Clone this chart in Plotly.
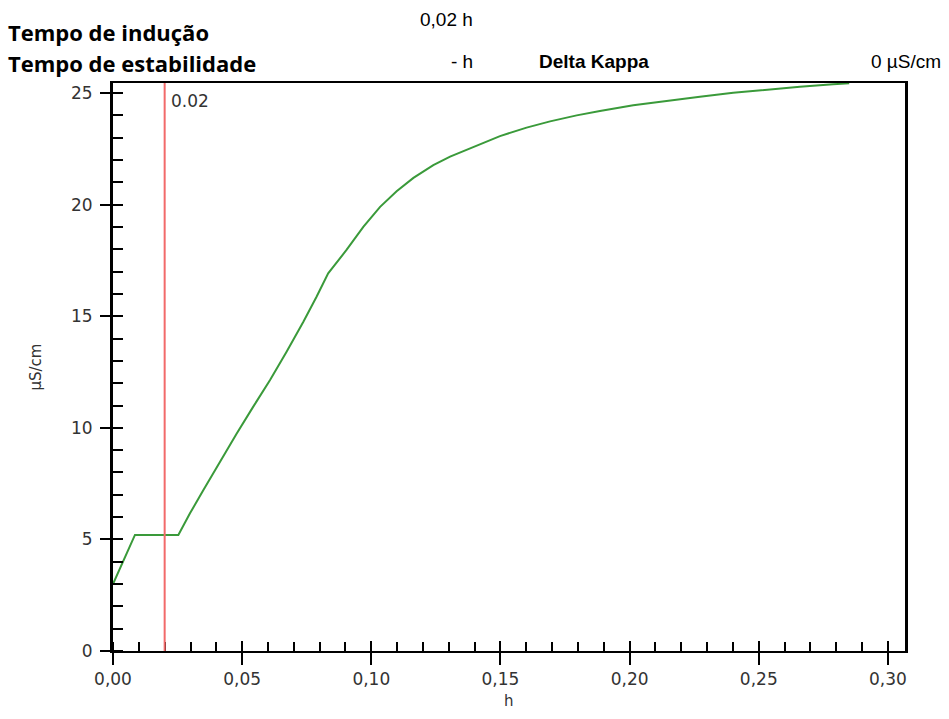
import plotly.graph_objects as go

# Conductivity curve (Delta Kappa) versus time
time_h = [0.0, 0.0085, 0.0253, 0.0298, 0.035, 0.0414, 0.0479, 0.0543, 0.0608,
          0.0672, 0.0737, 0.0788, 0.0833, 0.0904, 0.0969, 0.1034, 0.1098,
          0.1163, 0.124, 0.1305, 0.1395, 0.1498, 0.1601, 0.1692, 0.1795,
          0.1885, 0.2014, 0.2143, 0.2272, 0.2401, 0.253, 0.2659, 0.2788, 0.285]
delta_kappa = [3.0, 5.2, 5.2, 6.17, 7.21, 8.5, 9.75, 10.95, 12.14,
               13.41, 14.75, 15.87, 16.92, 17.97, 19.0, 19.9, 20.6,
               21.2, 21.77, 22.15, 22.59, 23.07, 23.45, 23.73, 24.0,
               24.2, 24.45, 24.65, 24.83, 25.01, 25.16, 25.28, 25.39, 25.44]

induction_time = 0.02
x_range = [0.0, 0.3066]
y_range = [0.0, 25.45]

# header texts
hdr_left = ["Tempo de indução", "Tempo de estabilidade"]
hdr_vals = ["0,02 h", "- h"]
hdr_kappa = "Delta Kappa"
hdr_kappa_val = "0 µS/cm"

tick_font = dict(family="DejaVu Sans", size=17, color="#333333")
title_font = dict(family="DejaVu Sans", size=15, color="#333333")
narrow = "Liberation Sans Narrow, Arial Narrow, Liberation Sans"

fig = go.Figure()
fig.add_trace(go.Scatter(x=time_h, y=delta_kappa, mode="lines",
                         line=dict(color="#3a9a3a", width=2),
                         showlegend=False, hoverinfo="x+y"))
# invisible trace so the overlay axes are drawn
fig.add_trace(go.Scatter(x=[None], y=[None], xaxis="x2", yaxis="y2",
                         showlegend=False, hoverinfo="skip"))

fig.add_vline(x=induction_time, line=dict(color="#f26a6a", width=2))

fig.update_layout(
    width=949, height=719,
    margin=dict(l=113, r=44, t=83, b=68),
    plot_bgcolor="white", paper_bgcolor="white",
    separators=",.",
    xaxis=dict(range=x_range, dtick=0.05, tick0=0, tickformat=".2f",
               ticks="outside", ticklen=12, tickwidth=2, tickcolor="black",
               minor=dict(ticks="inside", dtick=0.01, ticklen=9, tickwidth=2,
                          tickcolor="black"),
               showline=True, linecolor="black", linewidth=2, mirror=True,
               showgrid=False, zeroline=False, tickfont=tick_font),
    yaxis=dict(range=y_range, dtick=5, tick0=0,
               ticks="outside", ticklen=10, tickwidth=2, tickcolor="black",
               minor=dict(ticks="inside", dtick=1, ticklen=10, tickwidth=2,
                          tickcolor="black"),
               showline=True, linecolor="black", linewidth=3, mirror=True,
               showgrid=False, zeroline=False, tickfont=tick_font,
               ticklabelstandoff=4,
               title=dict(text="µS/cm", font=title_font, standoff=26)),
    xaxis2=dict(range=x_range, dtick=0.05, tick0=0, overlaying="x", side="bottom",
                ticks="inside", ticklen=10, tickwidth=2, tickcolor="black",
                showticklabels=False, showline=False, showgrid=False, zeroline=False),
    yaxis2=dict(range=y_range, dtick=5, tick0=0, overlaying="y", side="left",
                ticks="inside", ticklen=10, tickwidth=2, tickcolor="black",
                showticklabels=False, showline=False, showgrid=False, zeroline=False),
)

anns = [
    dict(text="<b>" + hdr_left[0] + "</b>", x=-0.135, y=1.09, xanchor="left",
         font=dict(family="Open Sans", size=22, color="black")),
    dict(text="<b>" + hdr_left[1] + "</b>", x=-0.135, y=1.035, xanchor="left",
         font=dict(family="Open Sans", size=22, color="black")),
    dict(text=hdr_vals[0], x=0.457, y=1.111, xanchor="right",
         font=dict(family=narrow, size=19, color="black")),
    dict(text=hdr_vals[1], x=0.457, y=1.037, xanchor="right",
         font=dict(family=narrow, size=19, color="black")),
    dict(text="<b>" + hdr_kappa + "</b>", x=0.535, y=1.037, xanchor="left",
         font=dict(family=narrow, size=19, color="black")),
    dict(text=hdr_kappa_val, x=1.048, y=1.037, xanchor="right",
         font=dict(family=narrow, size=19, color="black")),
    # x-axis title
    dict(text="h", x=0.5, y=-0.088, xanchor="center", font=title_font),
]
for a in anns:
    fig.add_annotation(xref="paper", yref="paper", yanchor="middle",
                       showarrow=False, **a)

fig.add_annotation(x=induction_time, y=1.0, xref="x", yref="paper",
                   text=f"{induction_time:.2f}", showarrow=False,
                   xanchor="left", yanchor="top", xshift=4, yshift=-6,
                   font=dict(family="DejaVu Sans", size=17, color="#333333"))

fig.write_html("out.html")
